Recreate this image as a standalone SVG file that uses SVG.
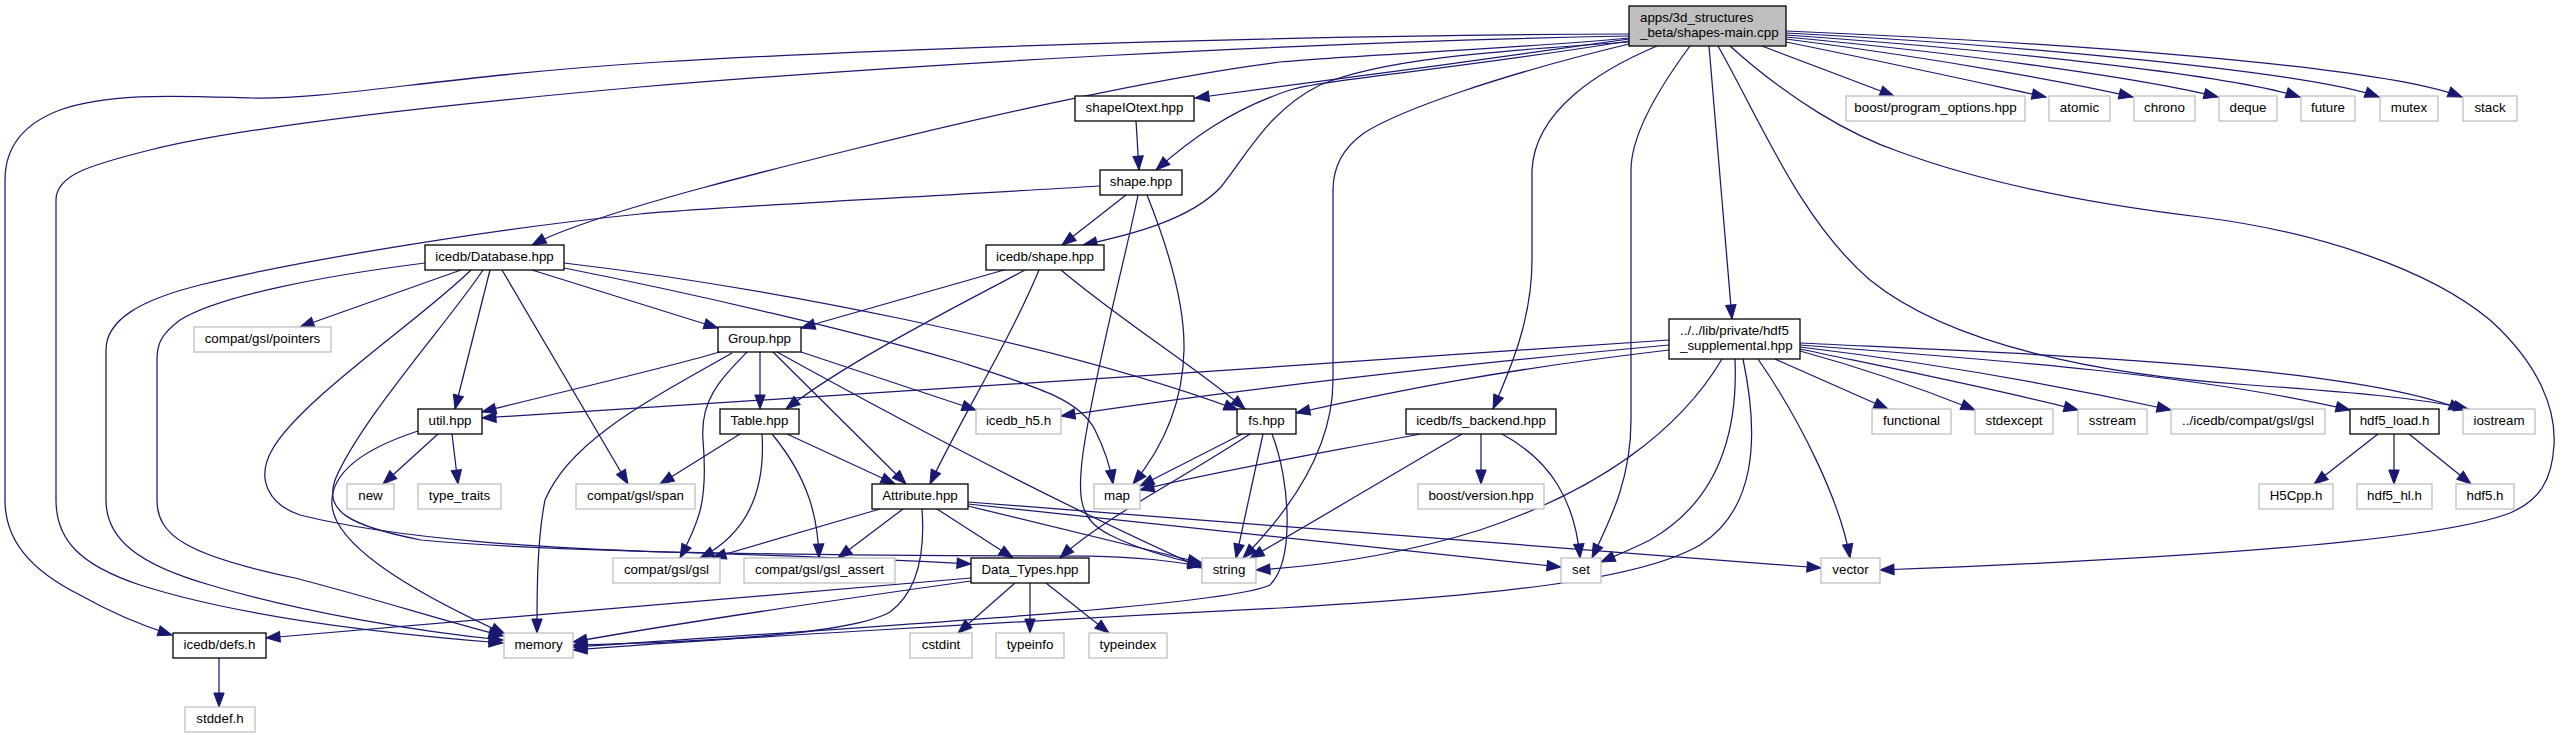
<svg xmlns="http://www.w3.org/2000/svg" width="2562" height="739" viewBox="0 0 2562 739">
<style>
.n{fill:#fff;stroke:#000;stroke-width:1.3}
.x{fill:#fff;stroke:#bfbfbf;stroke-width:1.3}
.r{fill:#bfbfbf;stroke:#000;stroke-width:1.3}
text{font-family:"Liberation Sans",Arial,Helvetica,sans-serif;font-size:13.33px;fill:#000}
.c{text-anchor:middle}
#edges path{fill:none;stroke:#191970;stroke-width:1.25;marker-end:url(#a)}
</style>
<defs>
<marker id="a" markerWidth="15" markerHeight="12" refX="14" refY="5.2" orient="auto" markerUnits="userSpaceOnUse" overflow="visible"><path d="M0,0 L14,5.2 L0,10.4 z" fill="#191970" stroke="#191970" stroke-width="1"/></marker>
</defs>
<rect width="2562" height="739" fill="#fff"/>
<g id="edges">
<path d="M1629,34 C1300,35 900,48 660,62 C450,75 330,100 252,98 C180,96 110,92 60,110 C20,125 5,150 5,180 L5,500 C5,540 30,570 80,595 C110,612 140,625 172,635"/>
<path d="M1629,36 C1300,42 900,65 640,87 C450,104 250,125 150,150 C90,165 56,175 56,200 L56,500 C56,540 80,565 140,585 C250,620 400,635 503,643"/>
<path d="M1629,38 C1500,50 1350,55 1280,62 C1150,78 950,125 850,150 C750,175 650,200 580,225 C560,232 545,238 532,245"/>
<path d="M1629,39 C1500,57 1300,85 1195,98"/>
<path d="M1629,41 C1450,70 1320,80 1290,90 C1230,110 1190,140 1156,170"/>
<path d="M1629,42 C1480,52 1380,60 1320,85 C1270,110 1250,150 1221,187 C1190,220 1130,235 1083,245"/>
<path d="M1629,44 C1500,75 1400,110 1364,133 C1340,150 1333,170 1333,190 L1333,380 C1333,440 1300,500 1243,558"/>
<path d="M1657,46 C1600,70 1535,110 1532,170 L1532,260 C1532,320 1510,370 1493,409"/>
<path d="M1690,46 C1650,100 1631,140 1631,170 L1631,420 C1631,480 1610,520 1592,558"/>
<path d="M1709,46 L1732,319"/>
<path d="M1718,46 C1760,120 1800,220 1870,280 C1950,345 2100,375 2250,385 C2350,392 2420,398 2468,409"/>
<path d="M1730,46 C1790,100 1850,135 1900,152 C1990,185 2100,205 2200,217 C2320,232 2430,270 2490,320 C2540,365 2556,410 2554,445 C2552,480 2540,500 2510,513 C2440,540 2200,558 1880,570"/>
<path d="M1762,46 L1894,96"/>
<path d="M1786,42 C1900,65 1990,85 2046,97"/>
<path d="M1786,39 C1950,60 2080,85 2133,97"/>
<path d="M1786,37 C1980,55 2150,80 2218,97"/>
<path d="M1786,35 C2000,50 2230,75 2300,97"/>
<path d="M1786,33 C2020,45 2310,72 2379,97"/>
<path d="M1786,31 C2050,42 2380,65 2462,97"/>
<path d="M1136,121 L1139,170"/>
<path d="M1126,195 L1062,245"/>
<path d="M1100,186 C900,198 700,208 640,214 C500,228 300,260 200,285 C140,300 106,320 106,350 L106,500 C106,540 140,565 210,585 C300,612 420,632 503,640"/>
<path d="M1138,195 C1125,260 1100,350 1085,440 C1075,500 1080,520 1110,535 C1140,550 1170,558 1202,565"/>
<path d="M1147,195 C1165,240 1185,300 1184,350 C1183,400 1165,445 1133,484"/>
<path d="M1004,270 L801,328"/>
<path d="M1025,270 C950,310 850,360 786,409"/>
<path d="M1039,270 C1010,340 960,420 930,484"/>
<path d="M1061,270 C1120,320 1200,370 1245,409"/>
<path d="M461,270 L300,327"/>
<path d="M471,270 C420,320 300,400 272,450 C255,480 270,505 300,515 C400,540 550,548 660,552 C800,556 900,560 971,564"/>
<path d="M483,270 C450,320 360,420 335,480 C325,510 345,525 421,540 C550,552 800,556 1090,556 C1140,557 1170,561 1202,566"/>
<path d="M490,270 L455,409"/>
<path d="M502,270 L628,484"/>
<path d="M532,270 L718,328"/>
<path d="M564,263 C750,285 1050,340 1238,410"/>
<path d="M564,268 C700,295 850,330 960,362 C1040,388 1080,400 1095,430 C1105,450 1110,465 1113,484"/>
<path d="M425,263 C330,275 220,295 180,320 C160,335 157,345 157,360 L157,500 C157,535 185,555 295,578 C380,600 440,620 503,636"/>
<path d="M720,352 C650,372 560,392 482,412"/>
<path d="M732,353 C650,400 570,440 545,500 C537,540 537,590 537,633"/>
<path d="M747,352 C720,380 700,400 703,440 C708,500 700,520 680,558"/>
<path d="M760,352 L760,409"/>
<path d="M773,352 L906,484"/>
<path d="M777,352 C900,420 1050,500 1202,568"/>
<path d="M801,352 L976,410"/>
<path d="M740,434 L660,484"/>
<path d="M762,434 C765,480 755,530 700,558"/>
<path d="M772,434 C810,480 818,520 819,558"/>
<path d="M787,434 L895,484"/>
<path d="M880,509 L712,558"/>
<path d="M903,509 L838,558"/>
<path d="M937,509 L1013,558"/>
<path d="M922,509 C925,550 920,590 890,612 C850,635 700,642 573,645"/>
<path d="M968,506 L1202,563"/>
<path d="M968,504 C1150,525 1350,545 1561,567"/>
<path d="M968,502 C1300,527 1600,550 1821,568"/>
<path d="M971,578 L266,638"/>
<path d="M971,581 C800,605 650,628 573,642"/>
<path d="M1015,583 L958,633"/>
<path d="M1030,583 L1030,633"/>
<path d="M1046,583 L1109,633"/>
<path d="M1242,434 L1140,486"/>
<path d="M1250,434 C1180,480 1100,520 1060,558"/>
<path d="M1263,434 L1236,558"/>
<path d="M1272,434 C1290,480 1295,560 1270,585 C1230,605 900,625 573,647"/>
<path d="M1420,434 C1350,448 1220,470 1140,490"/>
<path d="M1462,434 C1400,470 1300,530 1250,558"/>
<path d="M1481,434 L1481,484"/>
<path d="M1502,434 C1550,460 1575,500 1580,558"/>
<path d="M1669,340 C1300,365 800,400 482,418"/>
<path d="M1669,345 C1400,370 1200,395 1061,416"/>
<path d="M1669,350 C1500,370 1400,390 1296,413"/>
<path d="M1722,359 C1680,430 1600,490 1480,530 C1400,555 1320,566 1256,570"/>
<path d="M1735,359 C1738,430 1720,500 1650,540 C1630,550 1615,556 1601,562"/>
<path d="M1743,359 C1760,440 1755,510 1700,545 C1640,580 1500,595 1280,608 C1000,622 700,640 573,650"/>
<path d="M1758,359 C1800,420 1840,500 1850,558"/>
<path d="M1775,359 L1888,409"/>
<path d="M1800,351 C1870,370 1930,392 1975,410"/>
<path d="M1800,349 C1900,370 2000,390 2078,410"/>
<path d="M1800,347 C1950,365 2080,390 2171,410"/>
<path d="M1800,345 C2000,360 2200,375 2350,410"/>
<path d="M1800,343 C2050,355 2350,365 2463,410"/>
<path d="M2378,434 L2314,484"/>
<path d="M2394,434 L2394,484"/>
<path d="M2409,434 L2471,484"/>
<path d="M438,434 L383,484"/>
<path d="M452,434 L458,484"/>
<path d="M418,431 C360,450 330,475 332,505 C335,550 430,600 505,634"/>
<path d="M219,658 L219,707"/>
</g>
<g id="n_root"><rect class="r" x="1629" y="6" width="157" height="40"/><text x="1640" y="22">apps/3d_structures</text><text x="1640" y="37">_beta/shapes-main.cpp</text></g>
<g id="n_shapeIOtext"><rect class="n" x="1075" y="96" width="119" height="25"/><text class="c" x="1134.5" y="112">shapeIOtext.hpp</text></g>
<g id="n_boost_po"><rect class="x" x="1846" y="96" width="179" height="25"/><text class="c" x="1935.5" y="112">boost/program_options.hpp</text></g>
<g id="n_atomic"><rect class="x" x="2049" y="96" width="61" height="25"/><text class="c" x="2079.5" y="112">atomic</text></g>
<g id="n_chrono"><rect class="x" x="2134" y="96" width="61" height="25"/><text class="c" x="2164.5" y="112">chrono</text></g>
<g id="n_deque"><rect class="x" x="2219" y="96" width="58" height="25"/><text class="c" x="2248" y="112">deque</text></g>
<g id="n_future"><rect class="x" x="2301" y="96" width="54" height="25"/><text class="c" x="2328" y="112">future</text></g>
<g id="n_mutex"><rect class="x" x="2380" y="96" width="58" height="25"/><text class="c" x="2409" y="112">mutex</text></g>
<g id="n_stack"><rect class="x" x="2463" y="96" width="54" height="25"/><text class="c" x="2490" y="112">stack</text></g>
<g id="n_shape"><rect class="n" x="1100" y="170" width="82" height="25"/><text class="c" x="1141" y="186">shape.hpp</text></g>
<g id="n_icedb_shape"><rect class="n" x="986" y="245" width="118" height="25"/><text class="c" x="1045" y="261">icedb/shape.hpp</text></g>
<g id="n_database"><rect class="n" x="425" y="245" width="139" height="25"/><text class="c" x="494.5" y="261">icedb/Database.hpp</text></g>
<g id="n_group"><rect class="n" x="718" y="327" width="83" height="25"/><text class="c" x="759.5" y="343">Group.hpp</text></g>
<g id="n_pointers"><rect class="x" x="194" y="327" width="137" height="25"/><text class="c" x="262.5" y="343">compat/gsl/pointers</text></g>
<g id="n_hdf5_supp"><rect class="n" x="1669" y="319" width="131" height="40"/><text x="1680" y="335">../../lib/private/hdf5</text><text x="1680" y="350">_supplemental.hpp</text></g>
<g id="n_util"><rect class="n" x="418" y="409" width="64" height="25"/><text class="c" x="450" y="425">util.hpp</text></g>
<g id="n_table"><rect class="n" x="720" y="409" width="79" height="25"/><text class="c" x="759.5" y="425">Table.hpp</text></g>
<g id="n_icedb_h5"><rect class="x" x="976" y="409" width="85" height="25"/><text class="c" x="1018.5" y="425">icedb_h5.h</text></g>
<g id="n_fs"><rect class="n" x="1237" y="409" width="59" height="25"/><text class="c" x="1266.5" y="425">fs.hpp</text></g>
<g id="n_fs_backend"><rect class="n" x="1406" y="409" width="150" height="25"/><text class="c" x="1481" y="425">icedb/fs_backend.hpp</text></g>
<g id="n_functional"><rect class="x" x="1872" y="409" width="79" height="25"/><text class="c" x="1911.5" y="425">functional</text></g>
<g id="n_stdexcept"><rect class="x" x="1975" y="409" width="78" height="25"/><text class="c" x="2014" y="425">stdexcept</text></g>
<g id="n_sstream"><rect class="x" x="2078" y="409" width="69" height="25"/><text class="c" x="2112.5" y="425">sstream</text></g>
<g id="n_icedb_gsl"><rect class="x" x="2171" y="409" width="154" height="25"/><text class="c" x="2248" y="425">../icedb/compat/gsl/gsl</text></g>
<g id="n_hdf5_load"><rect class="n" x="2350" y="409" width="89" height="25"/><text class="c" x="2394.5" y="425">hdf5_load.h</text></g>
<g id="n_iostream"><rect class="x" x="2463" y="409" width="72" height="25"/><text class="c" x="2499" y="425">iostream</text></g>
<g id="n_new"><rect class="x" x="347" y="484" width="47" height="25"/><text class="c" x="370.5" y="500">new</text></g>
<g id="n_type_traits"><rect class="x" x="418" y="484" width="83" height="25"/><text class="c" x="459.5" y="500">type_traits</text></g>
<g id="n_span"><rect class="x" x="576" y="484" width="119" height="25"/><text class="c" x="635.5" y="500">compat/gsl/span</text></g>
<g id="n_attribute"><rect class="n" x="872" y="484" width="96" height="25"/><text class="c" x="920" y="500">Attribute.hpp</text></g>
<g id="n_map"><rect class="x" x="1094" y="484" width="46" height="25"/><text class="c" x="1117" y="500">map</text></g>
<g id="n_boost_version"><rect class="x" x="1418" y="484" width="126" height="25"/><text class="c" x="1481" y="500">boost/version.hpp</text></g>
<g id="n_h5cpp"><rect class="x" x="2259" y="484" width="74" height="25"/><text class="c" x="2296" y="500">H5Cpp.h</text></g>
<g id="n_hdf5_hl"><rect class="x" x="2357" y="484" width="75" height="25"/><text class="c" x="2394.5" y="500">hdf5_hl.h</text></g>
<g id="n_hdf5h"><rect class="x" x="2456" y="484" width="58" height="25"/><text class="c" x="2485" y="500">hdf5.h</text></g>
<g id="n_gsl"><rect class="x" x="613" y="558" width="107" height="25"/><text class="c" x="666.5" y="574">compat/gsl/gsl</text></g>
<g id="n_gsl_assert"><rect class="x" x="744" y="558" width="151" height="25"/><text class="c" x="819.5" y="574">compat/gsl/gsl_assert</text></g>
<g id="n_data_types"><rect class="n" x="971" y="558" width="118" height="25"/><text class="c" x="1030" y="574">Data_Types.hpp</text></g>
<g id="n_string"><rect class="x" x="1202" y="558" width="54" height="25"/><text class="c" x="1229" y="574">string</text></g>
<g id="n_set"><rect class="x" x="1561" y="558" width="40" height="25"/><text class="c" x="1581" y="574">set</text></g>
<g id="n_vector"><rect class="x" x="1821" y="558" width="59" height="25"/><text class="c" x="1850.5" y="574">vector</text></g>
<g id="n_defs"><rect class="n" x="173" y="633" width="93" height="25"/><text class="c" x="219.5" y="649">icedb/defs.h</text></g>
<g id="n_memory"><rect class="x" x="504" y="633" width="69" height="25"/><text class="c" x="538.5" y="649">memory</text></g>
<g id="n_cstdint"><rect class="x" x="910" y="633" width="62" height="25"/><text class="c" x="941" y="649">cstdint</text></g>
<g id="n_typeinfo"><rect class="x" x="996" y="633" width="68" height="25"/><text class="c" x="1030" y="649">typeinfo</text></g>
<g id="n_typeindex"><rect class="x" x="1089" y="633" width="78" height="25"/><text class="c" x="1128" y="649">typeindex</text></g>
<g id="n_stddef"><rect class="x" x="185" y="707" width="70" height="25"/><text class="c" x="220" y="723">stddef.h</text></g>
</svg>
